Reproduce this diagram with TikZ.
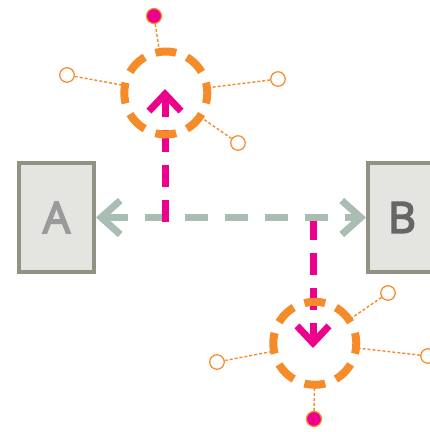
\documentclass[tikz,border=0pt]{standalone}
\usepackage{fontspec}
\newfontfamily\lbl{Open Sans}[RawFeature={embolden=4}]
\usetikzlibrary{arrows.meta}
\definecolor{boxborder}{HTML}{929284}
\definecolor{boxfill}{HTML}{E4E5E0}
\definecolor{gline}{HTML}{A9BDB2}
\definecolor{mag}{HTML}{EC008C}
\definecolor{orng}{HTML}{F68B2A}
\definecolor{txtA}{HTML}{9A9A9A}
\definecolor{txtB}{HTML}{666666}
\tikzset{
  gtip/.tip={Straight Barb[length=19pt,width=34pt]},
  mtip/.tip={Straight Barb[length=17pt,width=32pt]}
}
\begin{document}
\begin{tikzpicture}[x=1pt,y=-1pt,
  box/.style={draw=boxborder, fill=boxfill, line width=4pt, minimum width=75pt, minimum height=109pt, inner sep=0pt, font=\lbl\fontsize{43}{43}\selectfont},
  ring/.style={circle, draw=orng, line width=8pt, minimum size=83pt, inner sep=0pt, dash pattern=on 21pt off 11.59pt, dash phase=10.5pt},
  opendot/.style={circle, draw=orng, fill=white, line width=1.2pt, minimum size=14.5pt, inner sep=0pt},
  filldot/.style={circle, draw=orng, fill=mag, line width=1.2pt, minimum size=15pt, inner sep=0pt},
  thinline/.style={draw=orng, line width=1.4pt, dash pattern=on 3pt off 2pt},
  greyline/.style={draw=gline, line width=7pt, dash pattern=on 23pt off 17pt},
  magline/.style={draw=mag, line width=7pt, dash pattern=on 22pt off 13pt}
]
\useasboundingbox (0,0) rectangle (430,432);
\clip (0,0) rectangle (430,432);
% boxes
\node[box, text=txtA] (A) at (56.5,217.5) {A};
\node[box, text=txtB] (B) at (405.5,217.5) {B\kern7pt};
% coordinates for magenta lines
\coordinate (u0) at (165,222);
\coordinate (u1) at (165,89);
\coordinate (l0) at (313,218);
\coordinate (l1) at (313,348);
% lower magenta line (under grey)
\draw[magline, -mtip] (l0) -- (l1);
% grey double arrow
\draw[greyline, gtip-gtip] (A) -- (B);
% upper magenta line
\draw[magline, -mtip] (u0) -- (u1);
% upper ring satellites
\node[filldot] (ut) at (154,16) {};
\node[opendot] (ul) at (67,75) {};
\node[opendot] (ur) at (278,79) {};
\node[opendot] (ubr) at (238,143) {};
% lower ring satellites
\node[filldot] (lb) at (314,419) {};
\node[opendot] (ll) at (217,362) {};
\node[opendot] (lr) at (428,356) {};
\node[opendot] (ltr) at (388,293) {};
% ring anchors for connectors
\path (165.8,93) node[circle, minimum size=83pt, inner sep=0pt, outer sep=4pt] (U) {};
\path (314.8,343.3) node[circle, minimum size=83pt, inner sep=0pt, outer sep=4pt] (L) {};
\draw[thinline] (ut) -- (U);
\draw[thinline] (ul) -- (U);
\draw[thinline] (ur) -- (U);
\draw[thinline] (ubr) -- (U);
\draw[thinline] (lb) -- (L);
\draw[thinline] (ll) -- (L);
\draw[thinline] (lr) -- (L);
\draw[thinline] (ltr) -- (L);
\node[ring] (Uring) at (U.center) {};
\node[ring] (Lring) at (L.center) {};
\end{tikzpicture}
\end{document}
